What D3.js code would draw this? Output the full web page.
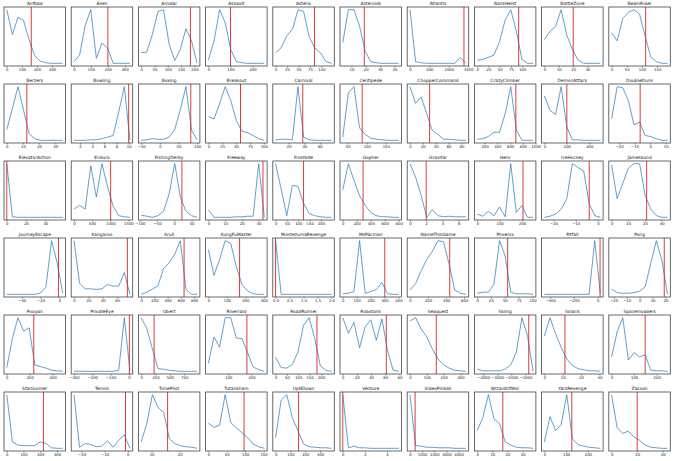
<!DOCTYPE html>
<html>
<head>
<meta charset="utf-8">
<script src="https://d3js.org/d3.v7.min.js"></script>
<style>
  body { margin: 0; background: #fff; }
  text { font-family: "DejaVu Sans", sans-serif; }
</style>
</head>
<body>
<div id="chart"></div>
<script>
// one panel per game, row by row
var games = [
  "AirRaid", "Alien", "Amidar", "Assault", "Asterix", "Asteroids", "Atlantis", "BankHeist", "BattleZone", "BeamRider",
  "Berzerk", "Bowling", "Boxing", "Breakout", "Carnival", "Centipede", "ChopperCommand", "CrazyClimber", "DemonAttack", "DoubleDunk",
  "ElevatorAction", "Enduro", "FishingDerby", "Freeway", "Frostbite", "Gopher", "Gravitar", "Hero", "IceHockey", "Jamesbond",
  "JourneyEscape", "Kangaroo", "Krull", "KungFuMaster", "MontezumaRevenge", "MsPacman", "NameThisGame", "Phoenix", "Pitfall", "Pong",
  "Pooyan", "PrivateEye", "Qbert", "Riverraid", "RoadRunner", "Robotank", "Seaquest", "Skiing", "Solaris", "SpaceInvaders",
  "StarGunner", "Tennis", "TimePilot", "Tutankham", "UpNDown", "Venture", "VideoPinball", "WizardOfWor", "YarsRevenge", "Zaxxon"
];

// histogram bin centres (score)
var binX = [
  [0,37,74,111,148,185,222,259,296,333,370],
  [0,33,66,99,132,165,198,231,264,297,330],
  [0,21,42,63,84,105,126,147,168,189,210],
  [0,25,51,76,101,127,152,177,202,228,253],
  [0,12,24,37,49,61,73,85,98,110,122],
  [4,7.9,11.8,15.7,19.6,23.5,27.4,31.3,35.2,39.1,43],
  [0,144,288,432,576,720,864,1008,1152,1296,1440],
  [0,12.4,24.8,37.2,49.6,62,74.4,86.8,99.2,111.6,124],
  [0,3.88,7.76,11.64,15.52,19.4,23.28,27.16,31.04,34.92,38.8],
  [0,18.4,36.8,55.2,73.6,92,110.4,128.8,147.2,165.6,184],

  [0,3.46,6.92,10.38,13.84,17.3,20.76,24.22,27.68,31.14,34.6],
  [1,1.92,2.84,3.76,4.68,5.6,6.52,7.44,8.36,9.28,10.2],
  [-50,-35,-20,-5,10,25,40,55,70,85,100],
  [0,10.1,20.2,30.3,40.4,50.5,60.6,70.7,80.8,90.9,101],
  [3,10.2,17.4,24.6,31.8,39,46.2,53.4,60.6,67.8,75],
  [37,51.7,66.4,81.1,95.8,110.5,125.2,139.9,154.6,169.3,184],
  [0,8.7,17.4,26.1,34.8,43.5,52.2,60.9,69.6,78.3,87],
  [85,172.5,260,347.5,435,522.5,610,697.5,785,872.5,960],
  [0,49.8,99.6,149.4,199.2,249,298.8,348.6,398.4,448.2,498],
  [-24.8,-21.2,-17.6,-14,-10.4,-6.8,-3.2,0.4,4,7.6,11.2],

  [0,5.8,11.6,17.4,23.2,29,34.8,40.6,46.4,52.2,58],
  [0,154,308,462,616,770,924,1078,1232,1386,1540],
  [-96,-79.8,-63.6,-47.4,-31.2,-15,1.2,17.4,33.6,49.8,66],
  [0,3.34,6.68,10.02,13.36,16.7,20.04,23.38,26.72,30.06,33.4],
  [0,24.6,49.2,73.8,98.4,123,147.6,172.2,196.8,221.4,246],
  [0,80,160,240,320,400,480,560,640,720,800],
  [0,0.69,1.38,2.07,2.76,3.45,4.14,4.83,5.52,6.21,6.9],
  [0,24.9,49.8,74.7,99.6,124.5,149.4,174.3,199.2,224.1,249],
  [-24.1,-21.6,-19,-16.5,-14,-11.5,-9,-6.4,-3.9,-1.4,1.1],
  [0,3.35,6.7,10.05,13.4,16.75,20.1,23.45,26.8,30.15,33.5],

  [-55.9,-49.9,-44,-38.1,-32.1,-26.2,-20.3,-14.3,-8.4,-2.4,3.5],
  [0,7.75,15.5,23.25,31,38.75,46.5,54.25,62,69.75,77.5],
  [0,84.5,169,253.5,338,422.5,507,591.5,676,760.5,845],
  [0,30.3,60.6,90.9,121.2,151.5,181.8,212.1,242.4,272.7,303],
  [0,0.2,0.4,0.6,0.8,1,1.2,1.4,1.6,1.8,2],
  [0,40.2,80.4,120.6,160.8,201,241.2,281.4,321.6,361.8,402],
  [0,61.9,123.8,185.7,247.6,309.5,371.4,433.3,495.2,557.1,619],
  [0,10.1,20.2,30.3,40.4,50.5,60.6,70.7,80.8,90.9,101],
  [-448,-401,-354,-307,-260,-213,-166,-119,-72,-25,22],
  [-21.6,-17.3,-13,-8.7,-4.4,0,4.3,8.6,12.9,17.2,21.5],

  [0,48.7,97.4,146.1,194.8,243.5,292.2,340.9,389.6,438.3,487],
  [-300,-269.5,-239,-208.5,-178,-147.5,-117,-86.5,-56,-25.5,5],
  [0,97.5,195,292.5,390,487.5,585,682.5,780,877.5,975],
  [14,38.1,62.2,86.3,110.4,134.5,158.6,182.7,206.8,230.9,255],
  [0,24.6,49.2,73.8,98.4,123,147.6,172.2,196.8,221.4,246],
  [0,7.9,15.8,23.7,31.6,39.5,47.4,55.3,63.2,71.1,79],
  [0,33.2,66.4,99.6,132.8,166,199.2,232.4,265.6,298.8,332],
  [-4430,-4032,-3634,-3236,-2838,-2440,-2042,-1644,-1246,-848,-450],
  [0,3.05,6.1,9.15,12.2,15.25,18.3,21.35,24.4,27.45,30.5],
  [0,24.8,49.6,74.4,99.2,124,148.8,173.6,198.4,223.2,248],

  [0,33.4,66.8,100.2,133.6,167,200.4,233.8,267.2,300.6,334],
  [-23.3,-20.9,-18.5,-16,-13.6,-11.2,-8.8,-6.4,-3.9,-1.5,0.9],
  [6.3,8.3,10.3,12.3,14.3,16.3,18.2,20.2,22.2,24.2,26.2],
  [0,15.2,30.4,45.6,60.8,76,91.2,106.4,121.6,136.8,152],
  [0,37.7,75.4,113.1,150.8,188.5,226.2,263.9,301.6,339.3,377],
  [0,0.506,1.012,1.518,2.024,2.53,3.036,3.542,4.048,4.554,5.06],
  [0,460,920,1380,1840,2300,2760,3220,3680,4140,4600],
  [0,3.69,7.38,11.07,14.76,18.45,22.14,25.83,29.52,33.21,36.9],
  [0,25.7,51.4,77.1,102.8,128.5,154.2,179.9,205.6,231.3,257],
  [0,4.37,8.74,13.11,17.48,21.85,26.22,30.59,34.96,39.33,43.7]
];

// histogram heights (relative counts)
var binY = [
  [99,53,85,79,43,14,4,1,0,0,0],
  [3,15,69,98,9,37,28,0,0,0,0],
  [19,20,52,93,96,34,5,25,62,40,0],
  [6,40,98,74,25,3,1,0,0,0,0],
  [19,28,49,62,97,94,49,28,19,3,0],
  [38,98,98,68,22,3,1,0,0,0,0],
  [100,3,1,0,0,0,0,0,0,11,0],
  [6,7,11,15,40,79,98,59,7,0,0],
  [44,59,68,99,52,26,6,0,0,0,0],
  [56,41,82,93,98,90,49,12,3,0,0],

  [20,59,100,56,12,3,0,0,0,0,0],
  [0,0,0,1,1,3,6,9,53,100,0],
  [0,1,3,2,2,6,20,57,100,19,1],
  [44,40,68,100,74,37,17,14,9,3,0],
  [1,2,2,1,100,6,1,0,0,0,0],
  [6,88,99,23,11,4,2,1,0,0,0],
  [100,69,81,49,18,11,2,2,1,0,0],
  [2,3,7,15,15,49,99,19,0,0,0],
  [83,56,48,100,25,1,1,0,0,0,0],
  [40,100,98,74,29,34,9,7,3,0,0],

  [100,1,0,0,0,0,0,0,0,0,0],
  [15,22,15,94,37,98,56,20,3,1,0],
  [4,2,0,3,11,43,98,37,11,3,0],
  [14,0,0,0,0,1,1,2,2,100,0],
  [99,52,3,59,57,26,7,3,1,0,0],
  [51,99,68,40,22,9,3,1,1,0,0],
  [99,74,40,0,14,3,1,2,1,1,1],
  [6,2,11,3,19,1,99,9,22,0,0],
  [0,2,6,15,34,98,91,85,25,3,0],
  [96,34,62,90,98,98,40,15,3,0,0],

  [0,0,0,0,0,0,2,13,97,57,2],
  [98,20,10,10,9,10,18,15,15,40,0],
  [0,4,10,16,48,59,75,100,9,0,0],
  [80,34,62,96,91,49,18,6,1,0,0],
  [100,0,0,0,0,0,0,0,0,0,0],
  [1,2,5,100,2,5,9,22,1,0,0],
  [8,20,44,65,80,100,98,56,8,2,0],
  [2,4,4,19,100,71,4,1,1,1,0],
  [0,0,0,0,0,0,0,0,0,100,2],
  [10,3,2,2,3,6,14,58,100,63,0],

  [7,61,100,75,81,12,9,6,2,1,0],
  [0,0,0,0,0,0,0,0,2,100,2],
  [100,80,42,5,4,2,1,0,0,0,0],
  [15,64,45,100,100,62,61,35,8,3,0],
  [26,7,6,13,36,86,100,61,10,2,0],
  [100,71,91,44,83,96,58,98,39,2,0],
  [94,100,79,64,42,23,12,6,2,1,0],
  [4,1,1,1,1,4,12,36,100,66,0],
  [66,100,70,45,23,11,5,3,1,1,0],
  [27,74,100,21,35,27,31,2,1,1,0],

  [100,12,6,5,5,5,12,9,1,0,0],
  [100,2,9,7,3,4,14,2,15,25,0],
  [12,46,100,76,67,18,9,5,3,2,0],
  [47,39,43,100,48,38,29,20,8,3,0],
  [20,90,100,57,33,8,3,2,1,1,0],
  [100,1,4,1,1,0,0,0,0,0,0],
  [100,5,4,2,2,1,1,1,0,0,0],
  [33,57,100,55,46,12,6,2,1,1,0],
  [12,59,33,44,100,18,7,4,2,1,0],
  [100,38,28,32,21,15,6,2,1,0,0]
];

// red reference line per game
var humanScore = [
  162, 200, 185, 100, 85, 19, 1390, 92, 20, 112,
  12.4, 10, 83, 58, 38, 88, 30.5, 690, 200, -6.4,
  0, 1010, 22, 32.6, 123, 290, 2, 204, -3.9, 21,
  -1, 74, 648, 169, 0, 302, 440, 55, 20, 19,
  235, 2, 225, 180, 182, 61.5, 156, -760, 11.2, 149,
  219, -1, 15.7, 97, 155, 0, 420, 16.9, 126, 20
];

var xTicks = [
  [0,100,200,300], [0,100,200,300], [0,50,100,150,200], [0,100,200], [0,25,50,75,100],
  [10,20,30,40], [0,500,1000,1500], [0,25,50,75,100], [0,10,20,30], [0,50,100,150],
  [0,10,20,30], [2,4,6,8,10], [-50,0,50,100], [0,25,50,75,100], [20,40,60],
  [50,100,150], [0,20,40,60,80], [200,400,600,800,1000], [0,200,400], [-20,-10,0,10],
  [0,20,40], [0,500,1000,1500], [-100,-50,0,50], [0,10,20,30], [0,50,100,150,200],
  [0,200,400,600,800], [0,2,4,6], [0,100,200], [-20,-10,0], [0,10,20,30],
  [-40,-20,0], [0,20,40,60], [0,200,400,600,800], [0,100,200,300], [0,0.5,1,1.5,2],
  [0,100,200,300,400], [0,200,400,600], [0,25,50,75,100], [-400,-200,0], [-20,-10,0,10,20],
  [0,200,400], [-300,-200,-100,0], [0,250,500,750], [100,200], [0,50,100,150,200],
  [0,20,40,60,80], [0,100,200,300], [-4000,-3000,-2000,-1000], [0,10,20,30], [0,100,200],
  [0,100,200,300], [-20,-10,0], [10,20], [0,50,100,150], [0,100,200,300],
  [0,2,4], [0,1000,2000,3000,4000], [0,10,20,30], [0,100,200], [0,20,40]
];

var w = 673, h = 461;
var cols = 10, colStep = 67.2, rowStep = 77, left0 = 4, top0 = 7;
var pw = 61.5, ph = 59;

var svg = d3.select("#chart").append("svg")
  .attr("width", w).attr("height", h);

games.forEach(function(name, i) {
  var xv = binX[i], yv = binY[i];
  var g = svg.append("g")
    .attr("transform", "translate(" + (left0 + (i % cols) * colStep) + "," + (top0 + Math.floor(i / cols) * rowStep) + ")");

  // matplotlib-style 5% margins
  var xe = d3.extent(xv), xm = (xe[1] - xe[0]) * 0.05;
  var ye = d3.extent(yv), ym = (ye[1] - ye[0]) * 0.05;
  var x = d3.scaleLinear().domain([xe[0] - xm, xe[1] + xm]).range([0, pw]);
  var y = d3.scaleLinear().domain([ye[0] - ym, ye[1] + ym]).range([ph, 0]);

  var pts = xv.map(function(v, k) { return [v, yv[k]]; });
  g.append("path")
    .attr("d", d3.line().x(function(d) { return x(d[0]); }).y(function(d) { return y(d[1]); })(pts))
    .attr("fill", "none").attr("stroke", "#1f77b4").attr("stroke-width", 0.7);

  g.append("line")
    .attr("x1", x(humanScore[i])).attr("x2", x(humanScore[i]))
    .attr("y1", 0).attr("y2", ph)
    .attr("stroke", "#d62728").attr("stroke-width", 0.9);

  g.append("rect").attr("width", pw).attr("height", ph)
    .attr("fill", "none").attr("stroke", "#444").attr("stroke-width", 0.8);

  var tv = xTicks[i];
  var fmt = tv.some(function(t) { return t % 1 !== 0; }) ? d3.format(".1f") : d3.format("d");
  var ax = g.append("g").attr("transform", "translate(0," + ph + ")")
    .call(d3.axisBottom(x).tickValues(tv).tickSize(1.6).tickPadding(0.9).tickFormat(fmt));
  ax.select(".domain").remove();
  ax.selectAll("line").attr("stroke", "#333").attr("stroke-width", 0.5);
  ax.selectAll("text").attr("font-size", 3.8).attr("fill", "#111")
    .attr("font-family", "DejaVu Sans, sans-serif");
  ax.attr("font-size", null).attr("font-family", null);

  g.append("text").attr("x", pw / 2).attr("y", -1.6)
    .attr("text-anchor", "middle").attr("font-size", 4.4).attr("fill", "#111")
    .text(name);
});
</script>
</body>
</html>
